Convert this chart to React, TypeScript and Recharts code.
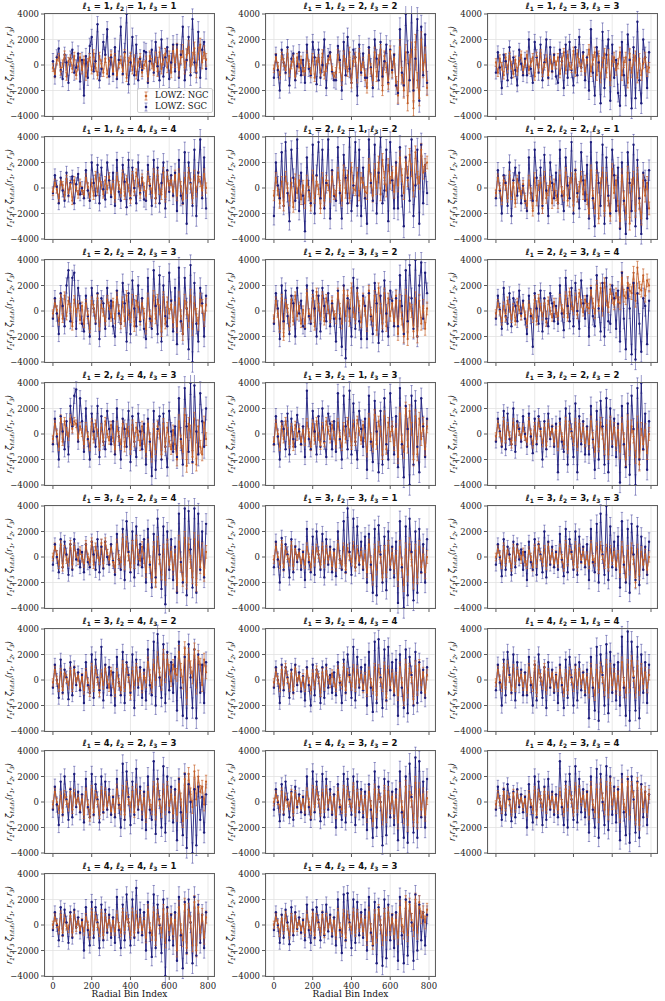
import React from 'react';
import { LineChart, Line, XAxis, YAxis, CartesianGrid, ErrorBar } from 'recharts';

// Radial bin index (sampled every 10 bins) shared by every panel
const BIN_INDEX = [0,10,20,30,40,50,60,70,80,90,100,110,120,130,140,150,160,170,180,190,200,210,220,230,240,250,260,270,280,290,300,310,320,330,340,350,360,370,380,390,400,410,420,430,440,450,460,470,480,490,500,510,520,530,540,550,560,570,580,590,600,610,620,630,640,650,660,670,680,690,700,710,720,730,740,750,760,770,780,790];
const X_TICKS = [0, 200, 400, 600, 800];
const Y_TICKS = [-4000, -2000, 0, 2000, 4000];

// multipole triplets (l1, l2, l3) for each panel
const ELL = [
  [1,1,1],[1,2,2],[1,3,3],[1,4,4],[2,1,2],[2,2,1],[2,2,3],[2,3,2],[2,3,4],[2,4,3],[3,1,3],[3,2,2],
  [3,2,4],[3,3,1],[3,3,3],[3,4,2],[3,4,4],[4,1,4],[4,2,3],[4,3,2],[4,3,4],[4,4,1],[4,4,3],
];

// values in units of 100 (r1 r2 r3 zeta)
const NGC_01 = [-2,-7,4,6,-5,1,8,-9,3,5,-3,7,-8,-1,6,-4, 4,-9,2,6,-4,9,-2,-8,7,1,-6,5,-7,3,8,-5, 6,-8,1,4,-5,9,-10,3,7,-4,5,-8,2,6,-6,0, 3,-9,7,1,-4,6,-5,10,-3,4,9,-2,7,-6,11,2, 12,-4,6,11,-2,8,14,-1,5,13,-5,9,16,2,10,4];
const SGC_01 = [3,-9,6,13,-4,-11,8,2,-14,5,12,-6,-2,9,-13,4, -24,7,-10,15,22,-5,3,32,-12,-3,18,8,28,-9,6,-7, 14,-11,4,30,-7,10,40,-15,2,22,-8,16,-12,5,-4,11, 10,-14,3,12,-6,18,-1,-12,20,-9,6,14,-11,2,16,-5, 16,-10,8,30,-12,4,22,-8,36,2,-6,26,-10,12,18,-3];
const NGC_02 = [-3,6,-1,-8,7,2,-4,9,-6,0,5,-9,6,-2,4,-5, -5,8,1,-7,6,-10,3,5,-6,9,-8,-2,4,7,-4,-9, -6,8,-2,-12,7,1,-5,10,-14,3,6,-10,9,-4,2,-8, -18,8,-3,-12,10,-9,4,12,-20,7,-2,-15,11,-6,5,-13, -24,14,-8,-20,10,-30,2,12,-34,18,-12,-26,20,-4,8,-18];
const SGC_02 = [-10,8,-4,-20,12,2,-6,14,-16,5,9,-12,-1,10,-8,4, -14,16,-3,-8,18,6,-15,12,-10,0,20,-18,7,10,-5,-12, -12,15,4,-20,18,-8,22,-3,-14,12,6,-24,16,-6,9,-10, -10,14,-2,-18,20,5,-12,18,-9,3,16,-14,12,-4,8,-16, -22,28,-6,-16,40,10,-12,42,-20,5,36,-28,30,-8,24,-14];
const NGC_03 = [2,-6,5,-1,-8,6,-3,7,0,-7,4,-5,3,8,-4,1, 8,-4,2,6,-9,7,-2,9,-6,1,5,-8,4,-3,6,0, 6,-7,3,10,-4,8,-1,-3,11,-6,9,2,-2,7,-5,4, 12,-5,4,10,-8,7,-10,2,9,-6,8,-12,3,6,-4,1, 10,-8,2,6,-14,9,-6,4,7,-10,5,-8,1,6,-5,-2];
const SGC_03 = [-6,10,-2,-18,8,3,-12,14,-10,6,-4,-16,12,1,-8,5, -8,20,-3,-14,18,6,-6,16,-12,2,20,-10,14,-5,8,-9, -14,12,3,-18,16,-10,18,-4,-16,14,-8,22,-2,10,-12,6, -20,28,-6,-24,14,2,-30,26,-18,8,20,-28,16,-10,4,-22, -32,18,-8,-24,24,4,-34,14,-26,34,-12,-30,20,6,-18,10];
const NGC_04 = [-3,4,-1,-8,5,2,-6,7,-4,3,-10,6,0,-5,4,-2, -5,8,1,-7,4,-6,10,-3,8,2,-5,6,-1,9,-4,3, -8,9,2,-4,11,-6,7,0,-9,10,-3,12,4,-5,8,1, -6,9,3,-4,11,-8,10,-1,-5,12,-7,9,2,6,-3,10, -6,11,1,-9,8,-4,12,3,-8,10,-3,9,5,-2,11,0];
const SGC_04 = [-4,10,1,-12,8,-2,-10,12,-6,4,9,-12,3,11,-5,0, -8,14,-2,-10,20,4,-6,18,-12,16,-1,-9,20,6,-7,12, -14,22,-3,-10,18,5,-15,22,-8,16,0,-12,20,-4,8,-9, -10,18,2,-14,22,-8,16,-12,4,20,-16,14,-3,10,-6,12, -18,22,-6,-12,28,-28,20,4,-14,30,-22,12,38,-8,24,-16];
const NGC_05 = [-6,8,-2,-12,5,-14,9,0,-10,4,-15,7,-4,6,-9,2, -12,6,-3,-14,10,-8,5,-1,-16,8,-10,6,2,-7,9,-5, -6,12,2,-10,14,-4,10,-8,16,0,-2,12,-6,8,4,-3, -4,18,6,-6,14,0,20,-5,22,8,-2,18,4,12,-3,16, 2,24,10,-4,20,6,26,14,-2,28,8,4,30,12,18,20];
const SGC_05 = [-22,20,2,-8,28,-14,36,-4,-26,30,8,-10,38,-18,12,-6, -34,24,-2,-12,34,-20,10,36,-8,30,-16,4,38,-24,14,-6, -10,32,-4,-24,26,8,-12,40,-18,2,36,-14,30,-22,16,-8, -28,38,4,-10,34,-20,12,40,-12,-2,30,-26,36,6,-16,20, -16,32,-6,-30,24,8,-10,38,-22,2,30,-28,34,-12,18,-4];
const NGC_06 = [-4,8,-1,-10,6,2,-8,10,-6,4,-12,7,0,-5,3,-9, -14,6,-4,-18,8,-10,2,4,-16,9,-8,-2,5,-12,3,-6, -12,10,-3,-6,12,-10,4,8,-14,11,-7,1,9,-5,6,-9, -20,14,-6,-16,10,-24,4,12,-18,8,-10,-22,15,-4,6,-14, -26,10,-8,-20,12,-28,2,8,-18,11,-12,-24,6,-6,4,-16];
const SGC_06 = [-8,14,-2,-20,10,4,-14,20,-22,6,16,-6,12,-12,2,-10, -18,24,-4,-10,30,8,-20,16,-14,26,-2,-22,20,4,-8,12, -12,30,-6,-18,24,2,-8,36,-20,14,-4,-16,28,6,-10,18, -24,36,-8,-30,20,4,-14,34,-28,24,-6,-20,30,10,-18,16, -32,20,-10,-36,28,4,-18,34,-30,22,-8,-36,12,6,-24,14];
const NGC_07 = [-2,6,1,-8,10,-6,12,-4,8,3,-12,9,-1,5,-7,4, -10,6,-3,-14,8,2,-6,10,-12,5,-1,-8,9,4,-5,7, -6,11,0,-10,7,-8,12,-3,-5,9,-12,8,3,-7,6,-2, -14,10,-4,-8,12,-6,9,1,-16,11,-10,7,-2,5,-9,3, -12,10,-4,-18,8,2,-8,12,-14,6,-3,-10,9,4,-7,5];
const SGC_07 = [-6,10,-2,-18,14,4,-12,20,32,-8,26,30,-14,18,6,-10, -16,12,-4,-20,18,2,-10,14,-22,10,6,-14,18,-6,8,-12, -20,16,-2,-10,22,6,-24,14,-18,24,2,-12,20,-8,10,-14, -22,26,-6,-14,32,4,-18,28,-24,20,-4,-12,30,8,-16,18, -26,34,-8,-18,26,2,-30,36,-40,22,-10,-24,18,6,-20,12];
const NGC_08 = [-6,8,-2,-14,10,-20,6,2,-12,9,-8,12,-4,4,-10,1, -10,14,-2,-6,10,-12,15,3,-4,12,-8,10,1,-6,8,-3, -6,14,2,-10,16,-4,12,-8,18,-1,-6,14,4,-9,10,0, -12,16,-3,-8,12,-15,18,2,-10,14,-12,10,-4,6,-8,12, -18,8,-6,-20,12,-22,6,0,-16,10,-20,8,-10,4,-14,2];
const SGC_08 = [-10,14,2,-22,20,-8,16,-4,-18,12,6,-20,18,-2,8,-12, -14,20,-4,-10,16,2,-20,12,-16,18,4,-8,14,-12,6,-6, -24,16,-6,-28,20,-37,10,2,-20,26,-14,18,-8,-22,12,4, -22,14,-4,-18,22,6,-25,12,-16,24,-2,-20,16,8,-12,10, -12,28,4,-18,32,-8,36,10,-14,40,-20,20,38,-6,30,14];
const NGC_09 = [-2,6,0,-8,4,-5,8,2,-6,3,-8,7,1,-4,5,-3, -10,5,-2,-6,9,-8,10,3,-4,6,-9,8,0,-5,7,-2, -4,10,2,-2,12,-5,15,4,0,11,-3,14,6,-1,9,3, 2,16,6,-2,20,4,18,0,22,8,3,17,10,5,14,7, 6,26,12,10,22,16,14,30,8,34,18,16,28,12,24,20];
const SGC_09 = [-6,12,1,-14,18,-4,-10,14,-12,10,4,-8,16,-2,8,-6, -18,12,-4,-28,14,2,-10,16,-16,10,-6,-12,14,6,-8,4, -10,20,-2,-15,26,4,-8,18,-12,22,0,-14,24,6,-6,12, -20,18,-4,-12,28,2,-16,22,-20,26,-8,-10,20,10,-14,16, -24,30,-6,-30,18,2,-34,22,-38,14,-10,-32,10,4,-26,8];
const NGC_10 = [-4,8,0,-10,12,-6,10,2,-2,12,4,10,8,-3,6,1, -8,6,-2,-10,9,-4,8,1,-10,5,-6,10,0,-5,7,-3, -12,6,-2,-8,8,-10,4,2,-12,7,-6,5,-1,-9,6,-4, -14,8,-4,-18,4,-12,6,0,-16,8,-10,5,-6,-12,3,-8, -20,10,-6,-14,15,-25,8,2,-18,12,-24,6,-10,-16,9,-4];
const SGC_10 = [-8,12,-2,-20,14,2,-12,10,-16,22,6,30,35,-6,28,10, -14,20,-4,-20,16,2,-10,22,-18,14,-6,-12,18,4,-8,10, -16,20,-2,-20,12,4,-10,18,-22,14,-6,-18,16,2,-12,8, -24,12,-6,-33,18,-28,4,14,-20,16,-10,-26,18,2,-14,6, -18,28,-4,-24,36,6,-14,40,-22,38,2,-16,32,10,-10,20];
const NGC_11 = [-6,8,0,-10,6,-4,10,2,-8,5,-10,7,-2,4,-6,3, -6,9,1,-10,8,-5,10,-2,-9,6,-7,10,3,-4,7,-1, -8,9,-2,-10,6,-4,10,1,-9,8,-6,11,2,-5,7,-3, -14,12,-4,-10,15,-8,10,2,-16,14,-12,9,-2,6,-9,4, -18,16,-6,-14,20,-10,18,4,-20,14,-16,12,-4,8,-12,6];
const SGC_11 = [-8,14,-2,-20,10,4,-12,16,-16,12,-4,-10,15,2,-8,6, -18,34,-4,-12,18,2,-16,14,-10,20,-6,-18,16,8,-12,10, -14,32,-4,-20,30,6,-12,34,-16,24,-6,-20,18,4,-10,12, -28,30,-6,-22,26,2,-30,18,-24,28,-8,-20,32,6,-16,14, -26,36,-8,-34,22,4,-40,30,-24,26,-10,-30,28,6,-18,12];
const NGC_12 = [-2,8,1,-6,10,-4,6,-1,-8,9,-5,7,2,-3,5,-2, -6,10,0,-8,6,-4,9,2,-7,5,-9,8,-1,4,-6,3, -10,6,-2,-8,10,-12,7,1,-6,9,-10,8,-3,5,-7,2, -8,10,-3,-14,6,-10,9,0,-12,7,-16,10,-4,5,-9,3, -14,8,-4,-20,10,-12,6,-2,-18,9,-24,4,-8,3,-15,0];
const SGC_12 = [-6,12,2,-10,18,-12,16,-4,-8,20,-14,10,4,-6,14,0, -10,16,-2,-15,12,-8,14,4,-20,10,-12,16,-4,6,-10,8, -30,12,-6,-14,20,-24,16,2,-18,24,-30,14,-8,10,-16,6, -16,22,-4,-28,18,-20,26,6,-24,28,-30,20,-10,12,-18,8, -38,22,-8,-26,24,-32,30,4,-40,36,-20,40,-12,16,-28,10];
const NGC_13 = [0,8,2,-6,10,-8,6,-2,-4,10,-6,8,1,-3,5,-1, -5,10,0,-4,12,-6,8,2,-3,11,-5,12,3,-2,7,-4, -8,10,-2,-4,14,-6,12,1,-8,9,-5,13,2,-3,8,-1, -12,10,-4,-16,8,-20,12,-2,-14,6,-18,10,-6,4,-10,2, -22,12,-6,-18,15,-20,10,-4,-16,14,-22,12,-8,6,-14,4];
const SGC_13 = [-6,10,0,-12,14,-8,12,2,-14,10,-10,14,-2,6,-8,4, -12,10,-4,-8,12,2,-10,14,-12,8,-9,12,0,-6,10,-3, -14,18,-2,-10,22,-18,28,4,-12,20,-16,24,-6,10,-8,14, -20,22,-6,-24,18,-16,30,2,-25,24,-37,20,-10,14,-18,8, -28,34,-4,-20,38,-30,36,6,-24,38,-28,34,-10,20,-16,26];
const NGC_14 = [-2,8,0,-6,10,-8,5,1,-4,9,-7,6,-1,3,-5,2, -6,8,0,-8,5,-4,7,2,-6,8,-5,6,-2,4,-7,3, -8,10,-2,-6,8,-10,7,1,-4,9,-8,6,-3,4,-6,2, -12,10,-4,-18,6,-10,8,0,-16,5,-12,9,-6,3,-9,1, -18,8,-6,-22,6,-14,10,-2,-20,5,-16,8,-8,2,-12,0];
const SGC_14 = [-8,12,-2,-20,15,-10,10,2,-16,14,-12,8,-4,6,-10,4, -18,22,-4,-12,16,-14,20,2,-10,18,-16,14,-6,8,-12,6, -15,20,-2,-10,28,-12,38,4,-14,30,-8,24,-6,12,-10,16, -20,18,-6,-28,22,-30,25,2,-20,16,-26,20,-10,8,-16,12, -36,28,-8,-40,24,-30,30,4,-34,20,-28,22,-12,10,-20,14];
const NGC_15 = [0,6,1,-6,8,-4,5,-1,-8,7,-3,6,2,-2,4,-4, -6,5,0,-8,7,-5,9,1,-4,6,-7,8,-2,3,-5,2, -5,7,-1,-8,10,-4,6,2,-6,9,-8,7,-2,4,-5,1, -6,10,-2,-4,8,-10,9,1,-6,7,-8,6,-3,4,-7,2, -12,8,-4,-16,5,-10,7,-2,-20,6,-14,4,-6,2,-10,0];
const SGC_15 = [-6,10,0,-15,14,-10,8,2,-14,12,-8,10,-2,6,-10,4, -18,12,-4,-10,14,-14,10,2,-12,20,-16,12,-6,8,-8,4, -10,18,-2,-15,22,-12,14,4,-10,20,-14,16,-4,8,-8,10, -18,22,-4,-12,26,-20,34,2,-14,40,-18,24,-8,12,-10,16, -24,28,-6,-20,22,-28,26,2,-18,24,-22,16,-10,8,-14,12];
const NGC_16 = [-2,8,0,-6,6,-8,5,1,-4,7,-6,8,-1,3,-5,2, -8,6,-2,-10,10,-6,8,1,-10,5,-4,9,0,-6,7,-3, -10,6,-2,-8,12,-6,9,2,-12,7,-4,10,-1,5,-7,3, -2,14,4,-6,12,0,18,6,-4,20,2,16,8,-1,12,5, 4,22,8,-2,25,-14,20,10,2,24,-6,18,12,-4,16,6];
const SGC_16 = [-6,12,0,-14,16,-10,8,2,-15,14,-12,10,-4,6,-8,4, -18,14,-4,-10,20,-14,16,2,-8,26,-16,12,-6,10,-12,6, -20,18,-2,-12,22,-18,14,4,-10,20,-22,16,-6,10,-14,8, -16,24,-4,-12,30,-20,36,2,-14,28,-18,22,-8,14,-10,18, -24,30,-6,-28,18,-30,28,2,-22,24,-30,20,-10,12,-18,14];
const NGC_17 = [-2,6,0,-6,8,-4,10,1,-6,5,-8,9,-1,3,-5,2, -6,7,-1,-8,5,-4,8,2,-10,6,-5,7,0,-3,5,-2, -6,8,-1,-4,10,-8,6,2,-5,9,-6,8,-2,4,-7,3, -10,7,-2,-8,10,-12,9,1,-6,11,-14,8,-4,5,-9,3, -12,10,-2,-16,12,-10,9,2,-15,11,-8,12,-4,6,-10,4];
const SGC_17 = [-6,10,0,-18,12,-8,10,2,-14,8,-10,12,-4,6,-9,3, -16,10,-4,-20,12,-12,8,2,-18,10,-14,12,-6,4,-10,6, -12,14,-2,-18,16,-10,20,4,-14,26,-16,18,-6,10,-8,12, -20,22,-6,-25,30,-18,32,2,-22,24,-16,26,-8,14,-12,16, -28,20,-6,-22,24,-26,18,4,-20,22,-18,14,-10,8,-14,10];
const NGC_18 = [-2,8,0,-6,10,-4,12,2,-8,9,-6,7,-1,4,-5,3, -8,10,-1,-6,12,-10,8,2,-4,10,-8,6,-2,5,-6,3, -6,8,-2,-10,5,-8,7,1,-6,8,-4,6,-3,4,-7,2, -10,9,-2,-12,8,-6,10,2,-8,12,-10,9,-4,5,-7,3, -8,14,-2,-10,12,-6,15,3,-10,11,-8,9,-3,6,-6,4];
const SGC_18 = [-8,12,-2,-20,16,-12,22,4,-10,20,-16,14,-4,8,-12,6, -12,18,-4,-20,12,-16,20,2,-14,10,-22,14,-6,8,-10,4, -18,12,-4,-22,16,-14,18,2,-20,12,-16,14,-8,6,-12,8, -30,18,-6,-24,26,-32,20,4,-20,28,-26,22,-10,12,-16,14, -20,34,-6,-28,38,-32,30,2,-24,26,-30,20,-10,14,-18,12];
const NGC_19 = [-2,8,0,-6,5,-8,6,1,-4,8,-6,7,-1,3,-5,2, -10,8,-2,-12,10,-8,6,1,-10,9,-6,8,-3,4,-7,2, -8,10,-1,-6,9,-10,12,2,-4,8,-8,10,-2,5,-6,3, -12,8,-2,-6,12,-10,14,1,-8,10,-6,12,-3,6,-9,4, -10,14,2,-15,18,-8,22,6,-4,24,2,20,8,12,-2,16];
const SGC_19 = [-6,12,-2,-18,16,-10,20,2,-14,10,-12,22,-4,8,-8,6, -16,18,-4,-12,22,-10,14,2,-16,20,-8,16,-6,10,-10,4, -12,18,-2,-20,30,-14,24,4,-18,16,-10,26,-6,12,-14,8, -22,20,-6,-14,32,-25,18,2,-20,28,-24,20,-8,12,-16,10, -30,18,-8,-26,22,-36,14,0,-40,10,-34,12,-14,4,-24,6];
const NGC_20 = [0,6,1,-5,8,-6,4,-1,-3,7,-8,6,-2,3,-5,2, -6,8,0,-10,10,-4,9,2,-8,7,-5,10,-1,4,-6,3, -10,8,-2,-6,10,-8,9,1,-4,12,-8,7,-3,5,-6,2, -12,8,-3,-15,10,-8,6,0,-14,9,-12,8,-5,4,-9,2, -16,10,-4,-12,12,-18,8,1,-14,15,-16,10,-6,6,-10,3];
const SGC_20 = [-6,10,0,-15,14,-10,16,2,-12,8,-14,12,-4,6,-8,4, -10,20,-4,-14,24,-8,16,2,-15,22,-12,18,-6,10,-10,6, -20,14,-4,-14,22,-16,18,2,-10,20,-18,16,-8,10,-12,8, -22,14,-6,-28,24,-20,12,0,-34,18,-26,16,-12,8,-18,10, -30,24,-8,-28,20,-32,30,4,-24,35,-28,32,-12,16,-20,18];
const NGC_21 = [-2,6,0,-6,8,-4,5,1,-8,7,-5,6,-1,3,-4,2, -8,6,-1,-6,9,-10,7,2,-4,8,-6,5,-2,4,-5,3, -6,8,-1,-8,10,-4,9,2,-8,12,-5,10,0,5,-4,6, -10,12,-2,-8,10,-12,14,3,-6,12,-10,15,-2,7,-5,8, -12,14,-2,-8,16,-10,12,4,-14,15,-18,10,-4,8,-8,6];
const SGC_21 = [-6,12,0,-14,10,-10,14,2,-15,8,-12,10,-4,6,-8,4, -20,14,-4,-16,20,-12,16,2,-18,12,-14,18,-6,8,-10,6, -12,32,-4,-18,16,-20,22,2,-14,28,-16,18,-8,10,-12,8, -24,20,-6,-20,26,-28,22,0,-18,28,-22,20,-10,12,-16,10, -30,22,-8,-26,18,-32,20,2,-24,16,-28,14,-12,8,-18,6];
const NGC_22 = [0,6,1,-4,8,-6,5,-1,-3,7,-6,8,-2,3,-4,2, -5,6,0,-8,10,-4,7,1,-6,9,-8,6,-2,4,-5,3, -5,8,-1,-6,10,-4,7,2,-8,10,-6,8,-2,5,-4,3, -10,12,-2,-8,10,-12,8,1,-6,12,-14,9,-4,5,-7,4, -20,14,-4,-12,16,-18,12,2,-16,18,-20,14,-6,8,-10,6];
const SGC_22 = [-4,10,0,-12,14,-8,12,2,-14,10,-10,12,-2,6,-6,4, -20,14,-4,-16,18,-10,14,2,-18,16,-12,12,-6,8,-10,6, -14,22,-4,-18,16,-12,24,2,-16,20,-10,29,-6,12,-8,10, -20,18,-6,-25,24,-18,16,0,-22,20,-40,14,-12,8,-16,10, -28,22,-8,-34,18,-22,20,2,-30,22,-24,16,-14,8,-18,10];
const NGC_23 = [0,6,1,-6,5,-4,8,-1,-8,6,-5,7,-2,3,-4,2, -6,8,0,-4,9,-8,6,1,-5,8,-7,6,-2,4,-5,3, -8,10,-2,-6,9,-10,8,1,-4,10,-6,9,-2,5,-5,4, -12,10,-3,-15,8,-10,12,0,-12,9,-8,10,-4,5,-7,4, -10,14,0,-6,18,-8,16,4,-4,20,-6,18,6,10,2,12];
const SGC_23 = [-4,10,0,-14,8,-10,12,2,-15,14,-8,10,-3,6,-6,4, -12,16,-4,-14,12,-10,14,2,-12,10,-8,16,-5,8,-9,6, -16,20,-4,-22,24,-12,25,2,-18,20,-14,18,-8,10,-10,12, -20,22,-6,-16,18,-30,14,0,-32,20,-26,16,-12,8,-18,10, -28,22,-8,-30,20,-24,18,2,-28,24,-20,16,-12,10,-16,8];

// typical error-bar half-length (units of 100) for five stretches of radial bins
const NGC_ERR = [
  [3,3,3,4,5],[3,3,4,4,6],[3,3,3,4,4],[3,3,3,4,4],[4,4,4,5,5],
  [3,4,4,4,5],[3,3,4,4,5],[3,3,4,4,5],[3,3,3,4,5],[3,3,4,4,5],
  [3,3,3,4,5],[3,3,3,4,5],[3,3,4,4,5],[3,3,3,4,5],[3,3,3,3,4],
  [3,3,3,4,5],[3,3,3,3,4],[3,3,3,4,4],[3,3,4,4,5],[3,3,3,4,5],
  [3,3,3,4,4],[3,3,3,4,5],[3,3,3,4,5],
];
const SGC_ERR = [
  [6,6,7,7,8],[6,6,7,7,9],[5,6,6,7,8],[5,6,6,7,8],[7,8,8,8,9],
  [6,6,7,8,8],[6,6,7,7,8],[6,6,7,7,8],[5,6,6,7,8],[6,6,7,7,9],
  [6,6,7,7,8],[5,6,6,7,8],[5,6,7,7,8],[6,6,7,7,8],[5,5,6,7,7],
  [5,6,6,7,8],[5,5,6,7,7],[6,6,6,7,8],[6,6,7,7,8],[5,6,6,7,8],
  [5,6,6,7,7],[5,6,6,7,8],[5,6,6,7,7],
];

const NGC_SERIES = [NGC_01,NGC_02,NGC_03,NGC_04,NGC_05,NGC_06,NGC_07,NGC_08,NGC_09,NGC_10,NGC_11,NGC_12,NGC_13,NGC_14,NGC_15,NGC_16,NGC_17,NGC_18,NGC_19,NGC_20,NGC_21,NGC_22,NGC_23];
const SGC_SERIES = [SGC_01,SGC_02,SGC_03,SGC_04,SGC_05,SGC_06,SGC_07,SGC_08,SGC_09,SGC_10,SGC_11,SGC_12,SGC_13,SGC_14,SGC_15,SGC_16,SGC_17,SGC_18,SGC_19,SGC_20,SGC_21,SGC_22,SGC_23];

const NGC_COLOR = '#c4602a';
const SGC_COLOR = '#1d1d7c';
const NGC_ERR_COLOR = 'rgba(200,100,45,0.85)';
const SGC_ERR_COLOR = 'rgba(45,45,145,0.6)';

const COL_LEFT = [45, 266, 488];
const PLOT_W = 169;
const PLOT_H = 102;
const AX_W = 44;
const TOP_PAD = 8;
const SERIF = '"DejaVu Serif", serif';
const SANS = '"DejaVu Sans", sans-serif';

const fmtY = (v: number) => (v < 0 ? '\u2212' + Math.abs(v) : String(v));

function Sub({ children }: { children: React.ReactNode }) {
  return <span style={{ fontSize: '70%', position: 'relative', top: '0.3em' }}>{children}</span>;
}

function Panel({ idx }: { idx: number }) {
  const col = idx % 3;
  const row = Math.floor(idx / 3);
  const left = COL_LEFT[col];
  const top = Math.round(14 + 122.9 * row);
  const showX = row === 7;
  const ell = ELL[idx];
  const ngc = NGC_SERIES[idx];
  const sgc = SGC_SERIES[idx];
  const data = BIN_INDEX.map((x, i) => ({
    x,
    ngc: ngc[i] * 100,
    sgc: sgc[i] * 100,
    en: NGC_ERR[idx][Math.floor(i / 16)] * 100,
    es: SGC_ERR[idx][Math.floor(i / 16)] * 100,
  }));
  const xTick = (props: any) => {
    if (!showX) return <g />;
    return (
      <text x={props.x} y={props.y} dy="0.71em" textAnchor="middle" fontSize={8.5} fontFamily={SERIF} fill="#222">
        {props.payload.value}
      </text>
    );
  };
  return (
    <>
      <div
        style={{
          position: 'absolute', left, top: top - 14, width: PLOT_W, height: 13, lineHeight: '13px',
          textAlign: 'center', fontFamily: SANS, fontWeight: 'bold', fontSize: 8.5, color: '#111', whiteSpace: 'nowrap',
        }}
      >
        <i>ℓ</i><Sub>1</Sub> = {ell[0]}, <i>ℓ</i><Sub>2</Sub> = {ell[1]}, <i>ℓ</i><Sub>3</Sub> = {ell[2]}
      </div>
      <div
        style={{
          position: 'absolute', left: left - 35 - 60, top: top + PLOT_H / 2 - 7, width: 120, height: 14, lineHeight: '14px',
          textAlign: 'center', transform: 'rotate(-90deg)', fontFamily: SANS, fontStyle: 'italic', fontSize: 8,
          color: '#111', whiteSpace: 'nowrap',
        }}
      >
        r<Sub>1</Sub>r<Sub>2</Sub>r<Sub>3</Sub> ζ<Sub>ℓ₁ℓ₂ℓ₃</Sub>(r<Sub>1</Sub>, r<Sub>2</Sub>, r<Sub>3</Sub>)
      </div>
      <div style={{ position: 'absolute', left: left - AX_W, top: top - TOP_PAD }}>
        <LineChart
          width={AX_W + PLOT_W + 8} height={TOP_PAD + PLOT_H + 24} data={data}
          margin={{ top: TOP_PAD, right: 8, bottom: 0, left: 0 }}
        >
          <CartesianGrid stroke="#e2e2e2" strokeWidth={0.8} />
          <XAxis
            dataKey="x" type="number" domain={[-41, 831]} ticks={X_TICKS} interval={0} allowDataOverflow
            height={24} tickSize={4} tickMargin={3} axisLine={false} tickLine={{ stroke: '#333', strokeWidth: 0.8 }} tick={xTick}
          />
          <YAxis
            type="number" domain={[-4000, 4000]} ticks={Y_TICKS} interval={0} allowDataOverflow width={AX_W}
            tickSize={4} tickMargin={2} axisLine={false} tickLine={{ stroke: '#333', strokeWidth: 0.8 }}
            tickFormatter={fmtY} tick={{ fontSize: 8.5, fontFamily: SERIF, fill: '#222' }}
          />
          <Line
            dataKey="sgc" type="linear" stroke={SGC_COLOR} strokeWidth={1} strokeOpacity={0.9}
            dot={{ r: 1.2, fill: SGC_COLOR, stroke: 'none' }} activeDot={false} isAnimationActive={false}
          >
            <ErrorBar dataKey="es" width={1.2} strokeWidth={0.8} stroke={SGC_ERR_COLOR} direction="y" />
          </Line>
          <Line
            dataKey="ngc" type="linear" stroke={NGC_COLOR} strokeWidth={0.9}
            dot={{ r: 1.1, fill: NGC_COLOR, stroke: 'none' }} activeDot={false} isAnimationActive={false}
          >
            <ErrorBar dataKey="en" width={1.2} strokeWidth={0.8} stroke={NGC_ERR_COLOR} direction="y" />
          </Line>
        </LineChart>
        <div
          style={{
            position: 'absolute', left: AX_W - 0.75, top: TOP_PAD - 0.75, width: PLOT_W + 1.5, height: PLOT_H + 1.5,
            border: '1.5px solid #606060', boxSizing: 'border-box', pointerEvents: 'none',
          }}
        />
      </div>
      {showX && (
        <div
          style={{
            position: 'absolute', left, top: top + PLOT_H + 13, width: PLOT_W, textAlign: 'center',
            fontFamily: SERIF, fontSize: 9, color: '#111', lineHeight: '11px',
          }}
        >
          Radial Bin Index
        </div>
      )}
    </>
  );
}

function Legend() {
  const entry = (color: string, err: string, label: string) => (
    <div style={{ display: 'flex', alignItems: 'center', height: 11 }}>
      <svg width={12} height={10} style={{ marginRight: 3 }}>
        <line x1={6} x2={6} y1={1} y2={9} stroke={err} strokeWidth={0.8} />
        <line x1={4.5} x2={7.5} y1={1} y2={1} stroke={err} strokeWidth={0.8} />
        <line x1={4.5} x2={7.5} y1={9} y2={9} stroke={err} strokeWidth={0.8} />
        <circle cx={6} cy={5} r={1.3} fill={color} />
      </svg>
      <span>{label}</span>
    </div>
  );
  return (
    <div
      style={{
        position: 'absolute', left: 137, top: 88, width: 76, height: 25, padding: '1px 2px', boxSizing: 'border-box',
        background: 'rgba(255,255,255,0.8)', border: '0.8px solid #d0d0d0', borderRadius: 2,
        fontFamily: SERIF, fontSize: 8.5, color: '#111', lineHeight: '11px',
      }}
    >
      {entry(NGC_COLOR, NGC_ERR_COLOR, 'LOWZ: NGC')}
      {entry(SGC_COLOR, SGC_ERR_COLOR, 'LOWZ: SGC')}
    </div>
  );
}

export default function App() {
  return (
    <div style={{ position: 'absolute', left: 0, top: 0, width: 665, height: 1001, background: '#fff', overflow: 'hidden' }}>
      {ELL.map((_, i) => (
        <Panel key={i} idx={i} />
      ))}
      <Legend />
    </div>
  );
}
